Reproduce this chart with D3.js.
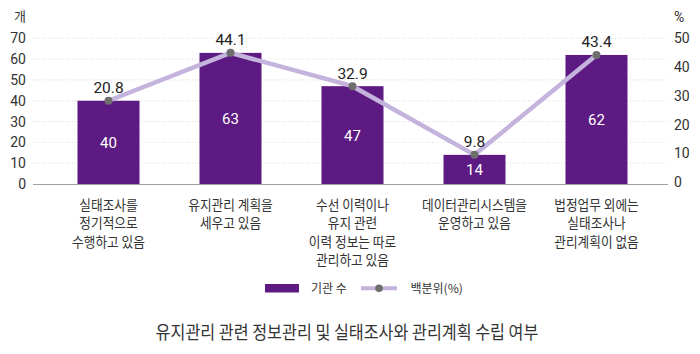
<!DOCTYPE html>
<html><head><meta charset="utf-8">
<script src="https://cdn.jsdelivr.net/npm/d3@7"></script>
<style>
html,body{margin:0;padding:0;background:#fff;}
svg{display:block;font-family:"Noto Sans CJK KR","Noto Sans",sans-serif;}
</style></head>
<body><svg id="c" width="700" height="354"></svg>
<script>
const categories = [
  ["실태조사를","정기적으로","수행하고 있음"],
  ["유지관리 계획을","세우고 있음"],
  ["수선 이력이나","유지 관련","이력 정보는 따로","관리하고 있음"],
  ["데이터관리시스템을","운영하고 있음"],
  ["법정업무 외에는","실태조사나","관리계획이 없음"]
];
const counts = [40, 63, 47, 14, 62];
const percents = [20.8, 44.1, 32.9, 9.8, 43.4];
const leftTicks = [0,10,20,30,40,50,60,70];
const rightTicks = [0,10,20,30,40,50];
const legendLabels = ["기관 수", "백분위(%)"];
const title = "유지관리 관련 정보관리 및 실태조사와 관리계획 수립 여부";

const svg = d3.select("#c");
const barColor = "#5d1a82", lineColor = "#c4b3dc", dotColor = "#6e6e6e", textColor = "#333";

const ids = d3.range(categories.length);
const x = d3.scaleBand().domain(ids).range([47.5, 657.5]).padding(0);
const barW = 62;
const y = d3.scaleLinear().domain([0,70]).range([184, 38.3]);
const yR = d3.scaleLinear().domain([0,50]).range([182, 38.3]);
const cx = i => x(i) + x.bandwidth()/2;

// grid
svg.append("g").selectAll("line").data(leftTicks.filter(d=>d>0)).join("line")
  .attr("x1",33).attr("x2",668).attr("y1",d=>y(d)).attr("y2",d=>y(d))
  .attr("stroke","#d9d9d9").attr("stroke-width",1).attr("stroke-dasharray","1,2");

// left axis
const la = svg.append("g").attr("transform","translate(33,0)")
  .call(d3.axisLeft(y).tickValues(leftTicks).tickSize(0).tickPadding(7));
la.select(".domain").remove();
la.selectAll("text").attr("font-size",14).attr("fill",textColor).attr("font-family","Roboto, 'Noto Sans', sans-serif");

// right axis
const ra = svg.append("g").attr("transform","translate(668,0)")
  .call(d3.axisRight(yR).tickValues(rightTicks).tickSize(0).tickPadding(6));
ra.select(".domain").remove();
ra.selectAll("text").attr("font-size",14).attr("fill",textColor).attr("font-family","Roboto, 'Noto Sans', sans-serif");

svg.append("text").attr("x",20).attr("y",21).attr("text-anchor","middle")
  .attr("font-size",13).attr("fill",textColor).text("개");
svg.append("text").attr("x",674).attr("y",22).attr("text-anchor","start")
  .attr("font-size",14).attr("fill",textColor).attr("font-family","Roboto, sans-serif").text("%");

// bars
svg.append("g").selectAll("rect").data(ids).join("rect")
  .attr("x",i=>cx(i)-barW/2).attr("width",barW)
  .attr("y",i=>y(counts[i])).attr("height",i=>y(0)-y(counts[i]))
  .attr("fill",barColor);

// baseline
svg.append("line").attr("x1",33).attr("x2",668).attr("y1",184.5).attr("y2",184.5)
  .attr("stroke","#a0a0a0").attr("stroke-width",1);

// bar value labels
svg.append("g").selectAll("text").data(ids).join("text")
  .attr("x",cx).attr("y",i=>(y(counts[i])+y(0))/2 + 5.5)
  .attr("text-anchor","middle").attr("font-size",15).attr("fill","#fff")
  .attr("font-family","Roboto, 'Noto Sans', sans-serif")
  .text(i=>counts[i]);

// line (points sit at bar tops)
const line = d3.line().x(i=>cx(i)).y(i=>y(counts[i]));
svg.append("path").datum(ids).attr("d",line).attr("fill","none")
  .attr("stroke",lineColor).attr("stroke-width",4.5);
svg.append("g").selectAll("circle").data(ids).join("circle")
  .attr("cx",cx).attr("cy",i=>y(counts[i])).attr("r",4).attr("fill",dotColor);
svg.append("g").selectAll("text").data(ids).join("text")
  .attr("x",cx).attr("y",i=>y(counts[i]) - 7.5)
  .attr("text-anchor","middle").attr("font-size",15.5).attr("fill","#222")
  .attr("font-family","Roboto, 'Noto Sans', sans-serif")
  .text(i=>percents[i].toFixed(1));

// category labels
const cg = svg.append("g");
ids.forEach(i=>{
  const t = cg.append("text").attr("text-anchor","middle").attr("font-size",13.5)
    .attr("fill",textColor)
    .attr("transform",`translate(${cx(i)},0) scale(0.94,1)`);
  categories[i].forEach((ln,k)=>{
    t.append("tspan").attr("x",0).attr("y",210 + k*18.4).text(ln);
  });
});

// legend
svg.append("rect").attr("x",265).attr("y",284).attr("width",34).attr("height",8.5).attr("fill",barColor);
svg.append("text").attr("x",311).attr("y",292.5).attr("font-size",12).attr("fill",textColor).text(legendLabels[0]);
svg.append("line").attr("x1",361).attr("x2",397).attr("y1",288.3).attr("y2",288.3)
  .attr("stroke",lineColor).attr("stroke-width",4);
svg.append("circle").attr("cx",379).attr("cy",288.3).attr("r",3.8).attr("fill",dotColor);
svg.append("text").attr("x",410.5).attr("y",292.5).attr("font-size",12).attr("fill",textColor).text(legendLabels[1]);

// title
svg.append("text").attr("text-anchor","middle")
  .attr("transform","translate(347,339) scale(0.9,1)")
  .attr("font-size",18).attr("fill",textColor).text(title);
</script></body></html>
